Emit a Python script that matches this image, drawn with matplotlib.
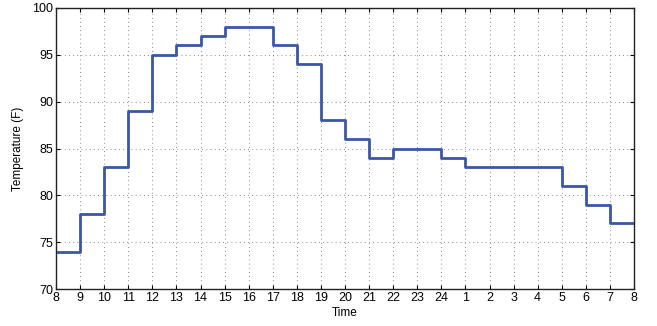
import matplotlib
matplotlib.use("Agg")
import matplotlib.pyplot as plt
import numpy as np

plt.rcParams['font.family'] = ['Liberation Sans', 'DejaVu Sans']

# hourly temperature, one value per hour starting at 8
hours = ['8', '9', '10', '11', '12', '13', '14', '15', '16', '17', '18', '19', '20',
         '21', '22', '23', '24', '1', '2', '3', '4', '5', '6', '7', '8']
temps = [74, 78, 83, 89, 95, 96, 97, 98, 98, 96, 94, 88, 86,
         84, 85, 85, 84, 83, 83, 83, 83, 81, 79, 77]

x = np.arange(len(hours))
y = temps + [temps[-1]]

fig = plt.figure(figsize=(6.57, 3.26), dpi=100)
ax = fig.add_axes([56/657, 1 - 289/326, (634-56)/657, (289-8)/326])

ax.step(x, y, where='post', color='#3a56a6', lw=2)

ax.set_xlim(0, len(hours) - 1)
ax.set_ylim(70, 100)
ax.set_xticks(x)
ax.set_xticklabels(hours)
ax.set_yticks(range(70, 101, 5))
ax.grid(True, linestyle=(0, (1, 4)), color='#666666', lw=0.6)
ax.tick_params(direction='in', top=True, right=True, labelsize=9, length=3, pad=2)
for s in ax.spines.values():
    s.set_linewidth(1)
    s.set_color('#222222')

ax.set_xlabel('Time', fontsize=8.5, labelpad=2)
ax.set_ylabel('Temperature (F)', fontsize=8.5, labelpad=6)

fig.savefig('out.png', dpi=100)
